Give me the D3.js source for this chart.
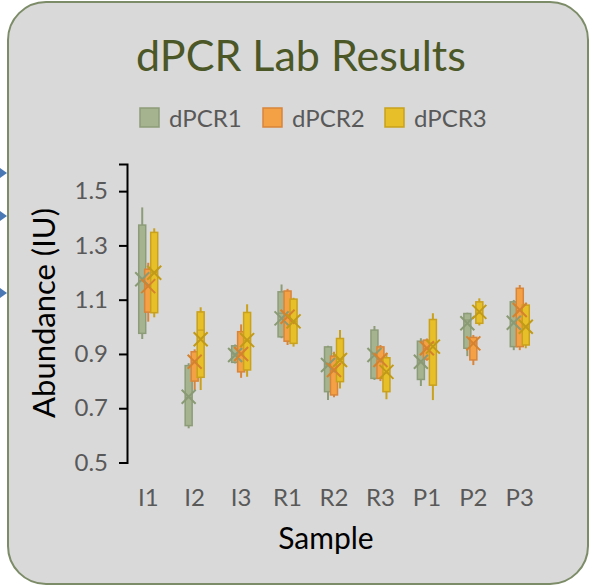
<!DOCTYPE html>
<html><head><meta charset="utf-8">
<script src="https://cdn.jsdelivr.net/npm/d3@7"></script>
<style>html,body{margin:0;padding:0;background:#fff;}svg{display:block;}</style>
</head><body>
<svg id="chart" width="590" height="587"></svg>
<script>
const categories = ["I1","I2","I3","R1","R2","R3","P1","P2","P3"];
const seriesNames = ["dPCR1","dPCR2","dPCR3"];
const yTicks = [0.5,0.7,0.9,1.1,1.3,1.5];

const dPCR1_min    = [0.955,0.626,0.865,0.958,0.730,0.804,0.782,0.892,0.914];
const dPCR1_q1     = [0.976,0.636,0.869,0.963,0.761,0.810,0.806,0.921,0.927];
const dPCR1_median = [1.170,0.740,0.900,1.050,0.860,0.900,0.870,1.025,1.020];
const dPCR1_q3     = [1.375,0.857,0.930,1.129,0.926,0.988,0.947,1.049,1.092];
const dPCR1_max    = [1.440,0.866,0.935,1.156,0.930,1.003,0.958,1.052,1.099];
const dPCR1_mean   = [1.175,0.742,0.896,1.031,0.859,0.896,0.871,1.013,1.015];

const dPCR2_min    = [1.019,0.767,0.812,0.933,0.740,0.800,0.875,0.859,0.914];
const dPCR2_q1     = [1.054,0.800,0.834,0.947,0.749,0.810,0.881,0.878,0.927];
const dPCR2_median = [1.150,0.870,0.900,1.040,0.840,0.880,0.920,0.940,1.060];
const dPCR2_q3     = [1.212,0.908,0.982,1.132,0.892,0.926,0.951,0.961,1.142];
const dPCR2_max    = [1.236,0.917,1.009,1.140,0.908,0.933,0.957,0.970,1.154];
const dPCR2_mean   = [1.150,0.871,0.900,1.037,0.841,0.878,0.921,0.939,1.062];

const dPCR3_min    = [1.035,0.767,0.816,0.927,0.773,0.733,0.730,1.005,0.921];
const dPCR3_q1     = [1.052,0.814,0.841,0.939,0.798,0.761,0.785,1.013,0.933];
const dPCR3_median = [1.200,0.988,0.950,1.020,0.880,0.830,0.940,1.050,1.000];
const dPCR3_q3     = [1.348,1.055,1.053,1.102,0.957,0.886,1.027,1.092,1.080];
const dPCR3_max    = [1.363,1.072,1.083,1.107,0.988,0.904,1.050,1.105,1.089];
const dPCR3_mean   = [1.199,0.954,0.951,1.020,0.878,0.834,0.927,1.055,1.000];

const fills   = ["#a5b38e","#f4a045","#e7bf29"];
const strokes = ["#8d9c78","#d8853a","#c9a11c"];
const markers = ["#8a9a74","#d5822f","#c09a18"];

const seriesData = [
  {min:dPCR1_min,q1:dPCR1_q1,median:dPCR1_median,q3:dPCR1_q3,max:dPCR1_max,mean:dPCR1_mean},
  {min:dPCR2_min,q1:dPCR2_q1,median:dPCR2_median,q3:dPCR2_q3,max:dPCR2_max,mean:dPCR2_mean},
  {min:dPCR3_min,q1:dPCR3_q1,median:dPCR3_median,q3:dPCR3_q3,max:dPCR3_max,mean:dPCR3_mean}
];

const svg = d3.select("#chart");
const FONT = "Lato, 'Open Sans', sans-serif";

// background card
svg.append("rect").attr("x",8).attr("y",2).attr("width",580).attr("height",582)
  .attr("rx",38).attr("ry",38).attr("fill","#d9d9d9").attr("stroke","#7d8c68").attr("stroke-width",2);

// blue arrowheads on the left edge
[173,216,293].forEach(yy=>{
  svg.append("path").attr("d",`M0,${yy-5} L7,${yy} L0,${yy+5} Z`).attr("fill","#4a78b4");
});

const x = d3.scaleBand().domain(categories).range([125,543]);
const xs = d3.scaleBand().domain(seriesNames).range([-9,9]);
const y = d3.scaleLinear().domain([0.5,1.6]).range([462.5,164]);

// title
svg.append("text").attr("x",301).attr("y",71).attr("text-anchor","middle")
  .attr("font-family",FONT).attr("font-size",43).attr("fill","#4b5726").text("dPCR Lab Results");

// legend
const legX = [139,262,384];
seriesNames.forEach((s,i)=>{
  svg.append("rect").attr("x",legX[i]+1).attr("y",108).attr("width",19).attr("height",19)
    .attr("fill",fills[i]).attr("stroke",strokes[i]).attr("stroke-width",1.5);
  svg.append("text").attr("x",legX[i]+30).attr("y",127).attr("font-family",FONT)
    .attr("font-size",24).attr("fill","#595959").text(s);
});

// y axis
const yAxis = d3.axisLeft(y).tickValues(yTicks).tickFormat(d3.format(".1f")).tickSizeOuter(0).tickSize(8).tickPadding(11);
const gy = svg.append("g").attr("transform","translate(127,0)").call(yAxis);
gy.select(".domain").attr("stroke","#000").attr("stroke-width",2);
gy.selectAll(".tick line").attr("stroke","#000").attr("stroke-width",2);
gy.selectAll(".tick text").attr("font-family",FONT).attr("font-size",24).attr("fill","#595959");

// x axis labels only
const xAxis = d3.axisBottom(x).tickSize(0).tickPadding(0);
const gx = svg.append("g").attr("transform","translate(0,489)").call(xAxis);
gx.select(".domain").remove();
gx.selectAll(".tick text").attr("font-family",FONT).attr("font-size",24).attr("fill","#595959");

// axis titles
svg.append("text").attr("transform","translate(55,313) rotate(-90)").attr("text-anchor","middle")
  .attr("font-family",FONT).attr("font-size",31).attr("fill","#000").text("Abundance (IU)");
svg.append("text").attr("x",326).attr("y",549).attr("text-anchor","middle")
  .attr("font-family",FONT).attr("font-size",30).attr("fill","#000").text("Sample");

// boxes
const bw = 7;
seriesData.forEach((sd,si)=>{
  const g = svg.append("g");
  categories.forEach((c,ci)=>{
    const cx = x(c) + x.bandwidth()/2 + xs(seriesNames[si]) + xs.bandwidth()/2;
    g.append("line").attr("x1",cx).attr("x2",cx).attr("y1",y(sd.max[ci])).attr("y2",y(sd.q3[ci]))
      .attr("stroke",strokes[si]).attr("stroke-width",2);
    g.append("line").attr("x1",cx).attr("x2",cx).attr("y1",y(sd.q1[ci])).attr("y2",y(sd.min[ci]))
      .attr("stroke",strokes[si]).attr("stroke-width",2);
    g.append("rect").attr("x",cx-bw/2).attr("width",bw).attr("y",y(sd.q3[ci]))
      .attr("height",y(sd.q1[ci])-y(sd.q3[ci])).attr("fill",fills[si]).attr("stroke",strokes[si]).attr("stroke-width",1.5);
    g.append("line").attr("x1",cx-bw/2).attr("x2",cx+bw/2).attr("y1",y(sd.median[ci])).attr("y2",y(sd.median[ci]))
      .attr("stroke",strokes[si]).attr("stroke-width",1.2);
  });
});
// mean markers
seriesData.forEach((sd,si)=>{
  categories.forEach((c,ci)=>{
    const cx = x(c) + x.bandwidth()/2 + xs(seriesNames[si]) + xs.bandwidth()/2;
    const cy = y(sd.mean[ci]); const r = 7;
    svg.append("path").attr("d",`M${cx-r},${cy-r}L${cx+r},${cy+r}M${cx-r},${cy+r}L${cx+r},${cy-r}`)
      .attr("stroke",markers[si]).attr("stroke-width",2).attr("fill","none");
  });
});
</script>
</body></html>
